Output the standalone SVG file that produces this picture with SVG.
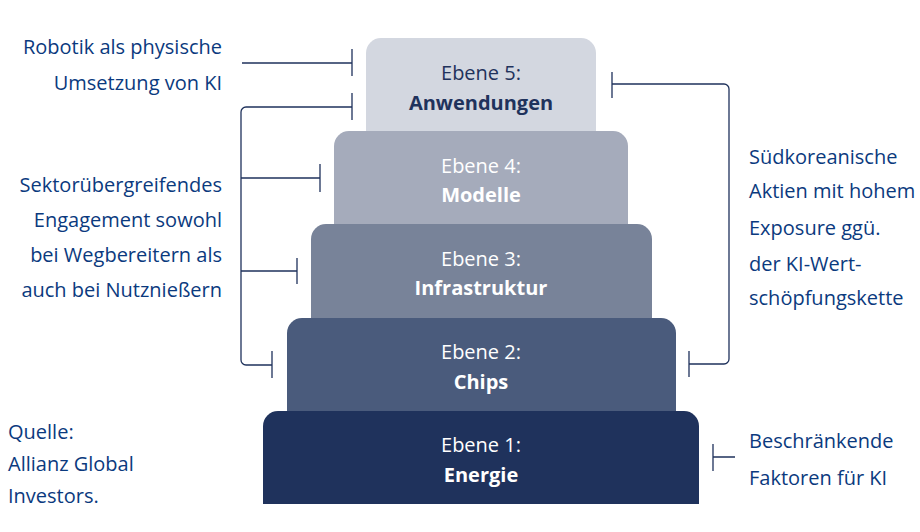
<svg xmlns="http://www.w3.org/2000/svg" width="920" height="532" viewBox="0 0 920 532">
<style>
.side{font-family:"Open Sans","Liberation Sans",sans-serif;font-size:20px;fill:#0b3a7e}
.lt{font-family:"Open Sans","Liberation Sans",sans-serif;font-size:20px;text-anchor:middle}
.b{font-weight:700}
.w{fill:#ffffff}
.d{fill:#1f325c}
.conn{fill:none;stroke:#1f325c;stroke-width:1.3}
</style>
<rect width="920" height="532" fill="#ffffff"/>
<g id="layer5"><rect x="366" y="38" width="230" height="120" rx="15" fill="#d3d7e0"/>
<text class="lt d" x="481" y="80">Ebene 5:</text><text class="lt d b" x="481" y="110">Anwendungen</text></g>
<g id="layer4"><rect x="334" y="131" width="294" height="120" rx="15" fill="#a5abbb"/>
<text class="lt w" x="481" y="173">Ebene 4:</text><text class="lt w b" x="481" y="202">Modelle</text></g>
<g id="layer3"><rect x="311" y="224" width="341" height="120" rx="15" fill="#788399"/>
<text class="lt w" x="481" y="266">Ebene 3:</text><text class="lt w b" x="481" y="295">Infrastruktur</text></g>
<g id="layer2"><rect x="287" y="318" width="389" height="120" rx="15" fill="#4a5b7c"/>
<text class="lt w" x="481" y="359">Ebene 2:</text><text class="lt w b" x="481" y="389">Chips</text></g>
<g id="layer1"><path d="M263 504 V426 a15 15 0 0 1 15 -15 H684 a15 15 0 0 1 15 15 V504 Z" fill="#1f325c"/>
<text class="lt w" x="481" y="452">Ebene 1:</text><text class="lt w b" x="481" y="482">Energie</text></g>
<g id="connectors">
<path class="conn" d="M242 63 H352 M352 49 V76"/>
<path class="conn" d="M352 107 H246 a5 5 0 0 0 -5 5 V360 a5 5 0 0 0 5 5 H272 M352 93 V120 M272 351 V378"/>
<path class="conn" d="M241 178 H320 M320 164 V192"/>
<path class="conn" d="M241 271 H297 M297 258 V284"/>
<path class="conn" d="M612 84 H724 a5 5 0 0 1 5 5 V359 a5 5 0 0 1 -5 5 H689 M612 72 V98 M689 351 V377"/>
<path class="conn" d="M713 457 H735 M713 444 V471"/>
</g>
<g id="label-robotik"><text class="side" text-anchor="end"><tspan x="222" y="54">Robotik als physische</tspan><tspan x="222" y="90">Umsetzung von KI</tspan></text></g>
<g id="label-sektor"><text class="side" text-anchor="end"><tspan x="222" y="192">Sektorübergreifendes</tspan><tspan x="222" y="227">Engagement sowohl</tspan><tspan x="222" y="262">bei Wegbereitern als</tspan><tspan x="222" y="297">auch bei Nutznießern</tspan></text></g>
<g id="label-korea"><text class="side"><tspan x="749" y="164">Südkoreanische</tspan><tspan x="749" y="198">Aktien mit hohem</tspan><tspan x="749" y="235">Exposure ggü.</tspan><tspan x="749" y="271">der KI-Wert-</tspan><tspan x="749" y="305">schöpfungskette</tspan></text></g>
<g id="label-faktoren"><text class="side"><tspan x="749" y="448">Beschränkende</tspan><tspan x="749" y="485">Faktoren für KI</tspan></text></g>
<g id="label-quelle"><text class="side"><tspan x="8" y="439">Quelle:</tspan><tspan x="8" y="471">Allianz Global</tspan><tspan x="8" y="503">Investors.</tspan></text></g>
</svg>
